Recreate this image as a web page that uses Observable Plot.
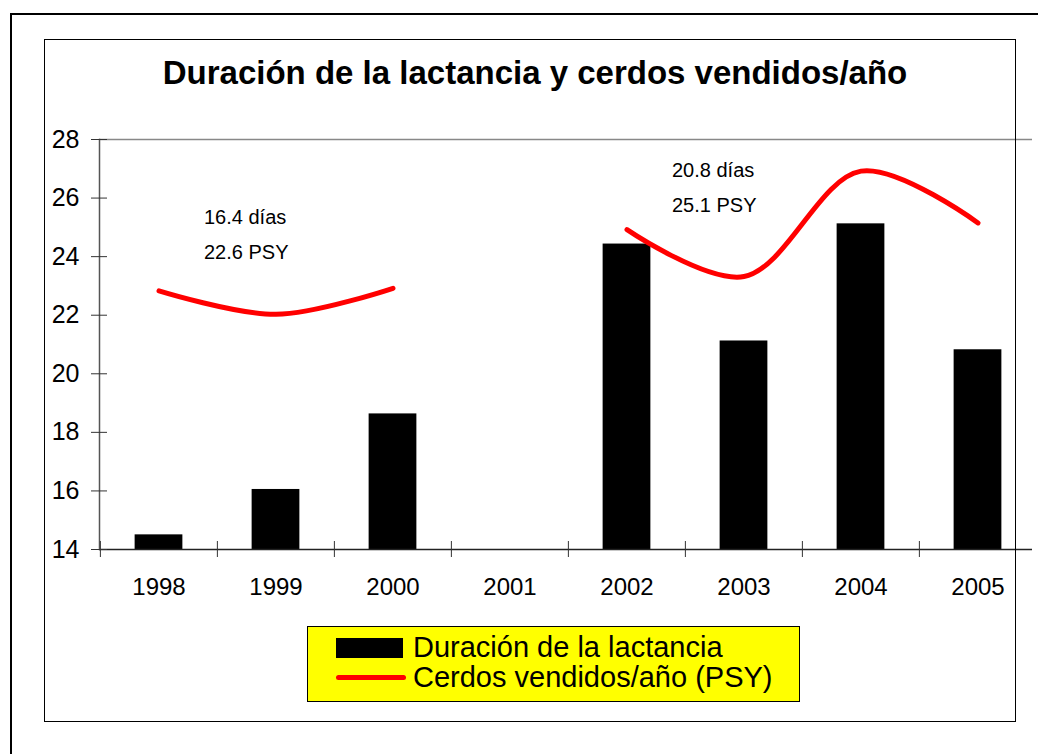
<!DOCTYPE html>
<html>
<head>
<meta charset="utf-8">
<script src="https://cdn.jsdelivr.net/npm/d3@7"></script>
<script src="https://cdn.jsdelivr.net/npm/@observablehq/plot@0.6"></script>
<style>
  html, body { margin: 0; padding: 0; background: #fff; }
  #page { position: relative; width: 1038px; height: 754px; overflow: hidden; font-family: "Liberation Sans", Arial, sans-serif; color: #000; }
  #outer { position: absolute; left: 10px; top: 13px; width: 1100px; height: 800px; border: 2px solid #000; box-sizing: border-box; }
  #inner { position: absolute; left: 44px; top: 39px; width: 972px; height: 683px; border: 1.5px solid #000; box-sizing: border-box; pointer-events: none; }
  #title { position: absolute; left: 44px; width: 982px; top: 55.6px; text-align: center; font-weight: bold; font-size: 33px; line-height: 33px; white-space: nowrap; }
  #chart { position: absolute; left: 0; top: 0; }
  #legend { position: absolute; left: 307px; top: 626px; width: 493px; height: 76px; background: #ffff00; border: 1px solid #000; box-sizing: border-box; }
  #legend .sw { position: absolute; }
  #legend .lab { position: absolute; left: 105px; font-size: 29px; line-height: 30px; white-space: nowrap; }
</style>
</head>
<body>
<div id="page">
  <div id="outer"></div>
  <div id="title">Duración de la lactancia y cerdos vendidos/año</div>
  <div id="chart"></div>
  <div id="legend">
    <div class="sw" style="left:28px; top:11px; width:67px; height:20px; background:#000;"></div>
    <div class="sw" style="left:28px; top:48px; width:70px; height:5px; border-radius:3px; background:#ff0000;"></div>
    <div class="lab" id="lab1" style="top:5.4px;"></div>
    <div class="lab" id="lab2" style="top:35.4px;"></div>
  </div>
  <div id="inner"></div>
</div>
<script>
// ---- data ----
const years = ["1998", "1999", "2000", "2001", "2002", "2003", "2004", "2005"];
const lactancia = [14.5, 16.05, 18.63, null, 24.43, 21.12, 25.12, 20.82];
const psy = [22.83, 22.03, 22.92, null, 24.92, 23.32, 26.92, 25.15];
const yTicks = [14, 16, 18, 20, 22, 24, 26, 28];
const yDomain = [14, 28];
const seriesNames = ["Duración de la lactancia", "Cerdos vendidos/año (PSY)"];
const noteLabels = ["16.4 días", "22.6 PSY", "20.8 días", "25.1 PSY"];
const noteYears = ["1998", "1998", "2002", "2002"];
const noteValues = [25.13, 23.93, 26.72, 25.52];

document.getElementById("lab1").textContent = seriesNames[0];
document.getElementById("lab2").textContent = seriesNames[1];

const table = years.map((year, i) => ({ year, lac: lactancia[i], psy: psy[i] }));
const bars = table.filter(d => d.lac != null);
const notes = noteLabels.map((label, i) => ({ label, year: noteYears[i], v: noteValues[i] }));

const W = 1038, H = 600, mL = 99, mR = 1;
const step = (W - mL - mR) / years.length;

const chart = Plot.plot({
  width: W,
  height: H,
  marginLeft: mL,
  marginRight: mR,
  marginTop: 139,
  marginBottom: 51,
  style: { fontFamily: "'Liberation Sans', Arial, sans-serif", fontSize: "24px", color: "#000", background: "transparent", overflow: "visible" },
  x: { domain: years, padding: 0, axis: null },
  y: { domain: yDomain, axis: null },
  marks: [
    Plot.ruleY([yDomain[1]], { stroke: "#888", strokeWidth: 1.5, insetRight: 5 }),
    Plot.barY(bars, { x: "year", y1: yDomain[0], y2: "lac", fill: "#000", insetLeft: (step - 48) / 2, insetRight: (step - 48) / 2 }),
    Plot.line(table, { x: "year", y: "psy", stroke: "#ff0000", strokeWidth: 5, curve: "catmull-rom", strokeLinecap: "round", strokeLinejoin: "round" }),
    Plot.ruleY([yDomain[0]], { stroke: "#222", strokeWidth: 1.5, insetRight: 5 }),
    Plot.frame({ anchor: "left", stroke: "#555", strokeWidth: 1.5 }),
    Plot.axisY({ ticks: yTicks, tickSize: 16, dx: 8, tickFormat: () => "", label: null, stroke: "#333" }),
    Plot.axisY({ ticks: yTicks, tickSize: 0, tickPadding: 20, fontSize: 25, label: null }),
    Plot.axisX({ tickSize: 16, dy: -8, dx: -step / 2, tickFormat: () => "", label: null, stroke: "#333" }),
    Plot.axisX({ tickSize: 0, tickPadding: 28, fontSize: 24, label: null }),
    Plot.text(notes, { x: "year", y: "v", text: "label", textAnchor: "start", lineAnchor: "bottom", dx: 45, fontSize: 20, fill: "#000" })
  ]
});
document.getElementById("chart").appendChild(chart);
</script>
</body>
</html>
